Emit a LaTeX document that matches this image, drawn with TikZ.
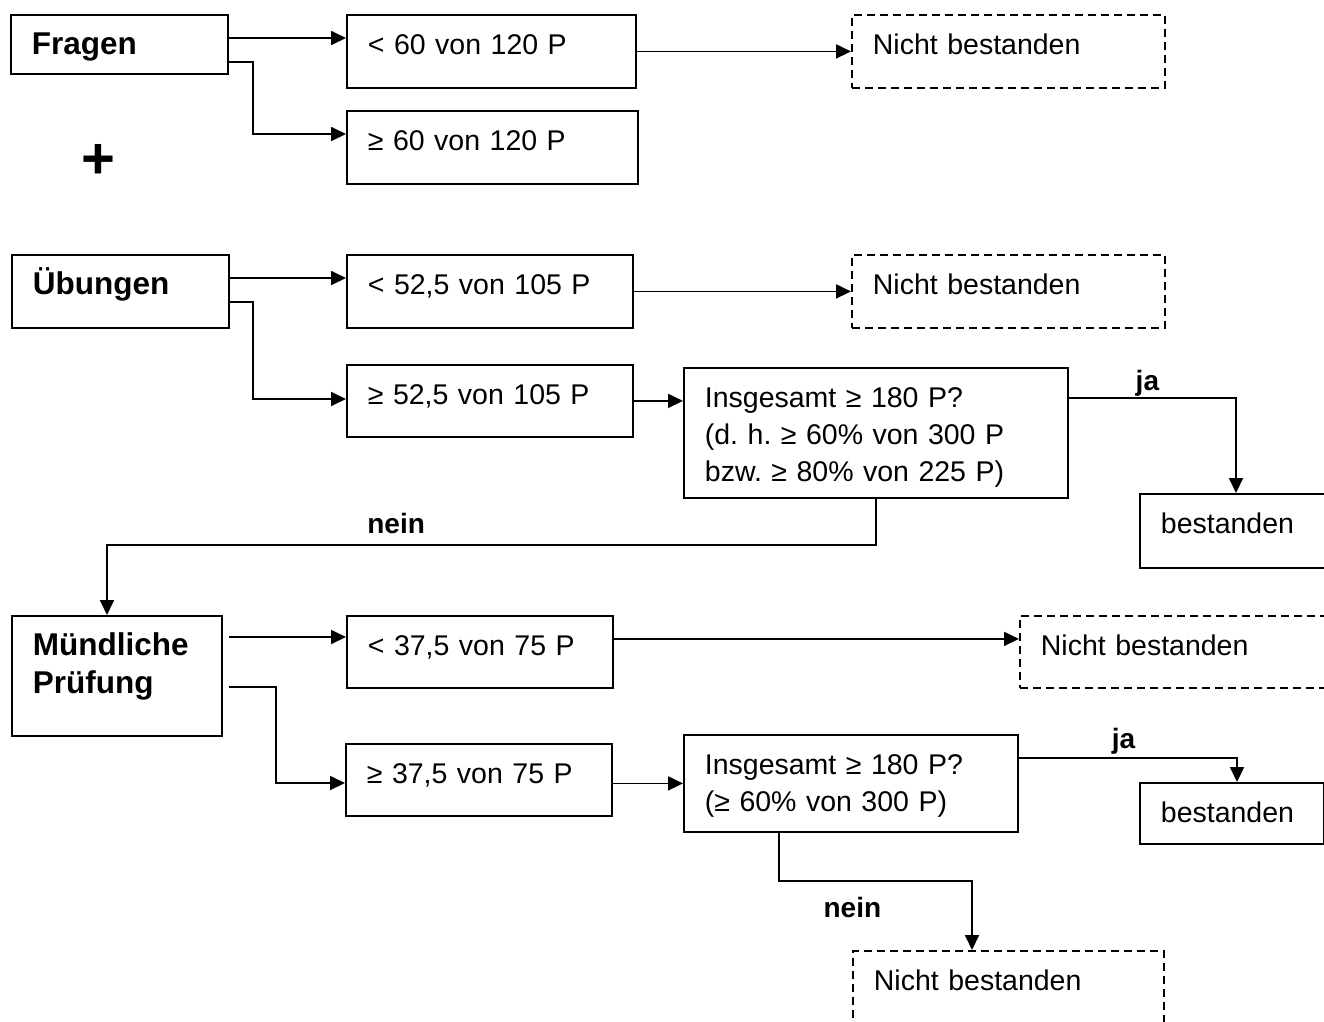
\documentclass[tikz,border=0pt]{standalone}
\usepackage{fontspec}
\setmainfont{Liberation Sans}
\usetikzlibrary{arrows.meta}
\frenchspacing

\newcommand{\boxfont}{\fontsize{28.5}{37}\selectfont}
\newcommand{\titlefont}{\fontsize{31.5}{38}\selectfont\bfseries}

\tikzset{
  box/.style={draw, line width=1.8pt, anchor=north west, align=left,
    inner xsep=21pt, inner ysep=0pt, text height=40pt, font=\boxfont},
  failbox/.style={box, dash pattern=on 8pt off 5pt},
  arr/.style={line width=1.8pt, -{Triangle[length=15pt,width=14pt]}},
  lbl/.style={font=\fontsize{28}{37}\selectfont\bfseries, anchor=base, inner sep=0pt}
}

\begin{document}
\begin{tikzpicture}[x=1pt,y=-1pt]
  \useasboundingbox (0,0) rectangle (1324,1021);

  % Fragen
  \node[box, font=\titlefont, text width=175pt, text depth=19pt] (fragen) at (10,14) {Fragen};
  \node[box, text width=247pt, text depth=33pt] (f1) at (346,14) {< 60 von 120 P};
  \node[box, text width=249pt, text depth=33pt] (f2) at (346,110) {≥ 60 von 120 P};
  \node[failbox, text width=271pt, text depth=33pt] (nb1) at (851,14) {Nicht bestanden};

  \node[font=\fontsize{58}{58}\selectfont\bfseries, inner sep=0pt] (plus) at (98,161) {+};

  \draw[arr] ([yshift=-24pt]fragen.north east) -- ([yshift=-24pt]f1.north west);
  \draw[arr] ([yshift=-48pt]fragen.north east) -- ++(24,0) |- ([yshift=-24pt]f2.north west);
  \draw[arr] (f1.east) -- (f1.east -| nb1.west);

  % Übungen
  \node[box, font=\titlefont, text width=175pt, text depth=33pt] (ueb) at (11,254) {Übungen};
  \node[box, text width=244pt, text depth=33pt] (u1) at (346,254) {< 52,5 von 105 P};
  \node[box, text width=244pt, text depth=32pt] (u2) at (346,364) {≥ 52,5 von 105 P};
  \node[failbox, text width=271pt, text depth=33pt] (nb2) at (851,254) {Nicht bestanden};
  \node[box, text width=342pt, text depth=90pt] (ins1) at (683,367)
    {Insgesamt ≥ 180 P?\\(d. h. ≥ 60\% von 300 P\\bzw. ≥ 80\% von 225 P)};
  \node[box, text width=158pt, text depth=34pt] (best1) at (1139,493) {bestanden};

  \draw[arr] ([yshift=-24pt]ueb.north east) -- ([yshift=-24pt]u1.north west);
  \draw[arr] ([yshift=-48pt]ueb.north east) -- ++(23,0) |- ([yshift=-35pt]u2.north west);
  \draw[arr] (u1.east) -- (u1.east -| nb2.west);
  \draw[arr] (u2.east) -- (u2.east -| ins1.west);
  \draw[arr] ([yshift=-31pt]ins1.north east) -| node[lbl, pos=.235, yshift=8pt] {ja}
    ([xshift=97pt]best1.north west);

  % Mündliche Prüfung
  \node[box, font=\titlefont, text width=168pt, text depth=80pt] (mp) at (11,615) {Mündliche\\Prüfung};
  \node[box, text width=224pt, text depth=32pt] (m1) at (346,615) {< 37,5 von 75 P};
  \node[box, text width=224pt, text depth=32pt] (m2) at (345,743) {≥ 37,5 von 75 P};
  \node[failbox, text width=271pt, text depth=32pt] (nb3) at (1019,615) {Nicht bestanden};
  \node[box, text width=292pt, text depth=57pt] (ins2) at (683,734)
    {Insgesamt ≥ 180 P?\\(≥ 60\% von 300 P)};
  \node[box, text width=142pt, text depth=21pt] (best2) at (1139,782) {bestanden};
  \node[failbox, text width=269pt, text depth=33pt] (nb4) at (852,950) {Nicht bestanden};

  \draw[arr] (ins1.south) -- ++(0,46) -| node[lbl, pos=.312, yshift=11pt] {nein}
    ([xshift=96pt]mp.north west);
  \draw[arr] ([xshift=6pt,yshift=-22pt]mp.north east) -- ([yshift=-22pt]m1.north west);
  \draw[arr] ([xshift=6pt,yshift=-72pt]mp.north east) -- ++(47,0) |- ([yshift=-40pt]m2.north west);
  \draw[arr] ([yshift=13pt]m1.east) -- ([yshift=13pt]m1.east -| nb3.west);
  \draw[arr] (ins2.west -| m2.east) -- (ins2.west);
  \draw[arr] ([yshift=-24pt]ins2.north east) -| node[lbl, pos=.24, yshift=10pt] {ja}
    ([xshift=98pt]best2.north west);
  \draw[arr] ([xshift=96pt]ins2.south west) -- ++(0,48) -| node[lbl, pos=.19, yshift=-37pt] {nein}
    ([xshift=120pt]nb4.north west);
\end{tikzpicture}
\end{document}
